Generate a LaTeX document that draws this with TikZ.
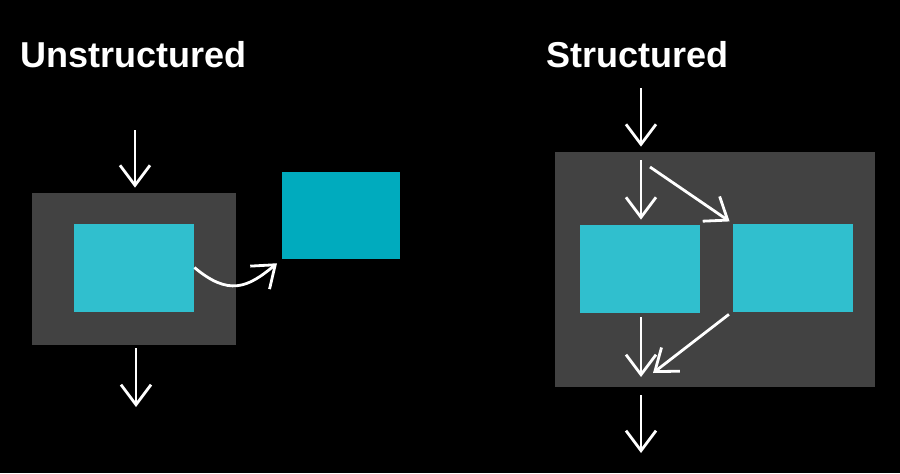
\documentclass[tikz,border=0pt]{standalone}
\usepackage{fontspec}
\setmainfont{Liberation Sans}
\usetikzlibrary{arrows.meta}
\definecolor{chalkgrey}{HTML}{424242}
\definecolor{tealbox}{HTML}{30BFCE}
\definecolor{tealfree}{HTML}{00ABBE}
\begin{document}
\begin{tikzpicture}[x=0.5pt, y=0.5pt,
    title/.style={anchor=base west, text=white, font=\fontsize{18}{22}\selectfont\bfseries, inner sep=0pt},
    frame/.style={rectangle, fill=chalkgrey, inner sep=0pt},
    block/.style={rectangle, fill=tealbox, inner sep=0pt, minimum width=60pt, minimum height=44pt},
    flow/.style={draw=white, line width=1.4pt, -{Straight Barb[length=10pt, width=15pt]}}]
                \fill[black] (0,0) rectangle (900,473);
                \useasboundingbox (0,0) rectangle (900,473);
                \node[title] (unstruct) at (20,406) {Unstructured};
                \node[title] (struct) at (546,406) {Structured};
                \node[frame, minimum width=102pt, minimum height=76pt] (outerL) at (134,204) {};
                \node[block] (taskL) at (134,205.5) {};
                \node[block, fill=tealfree, minimum width=59pt, minimum height=43.5pt] (escaped) at (341,257.5) {};
                \coordinate (inL) at (135,343);
                \coordinate (outL) at (136,66);
                \draw[flow, shorten >=2.5pt] (inL) -- (inL |- outerL.north);
                \draw[flow, shorten <=1.5pt] (outL |- outerL.south) -- (outL);
                \draw[flow, shorten >=3pt] (taskL.east) to[out=-40, in=-140, looseness=1.3] (escaped.south west);
                \node[frame, minimum width=160pt, minimum height=117.5pt] (outerR) at (715,203.5) {};
                \node[block] (taskA) at (640,204) {};
                \node[block] (taskB) at (792.5,205.5) {};
                \coordinate (inR) at (641,385);
                \coordinate (split) at (641,313);
                \coordinate (fork) at (650,306);
                \coordinate (join) at (641,96);
                \coordinate (merge) at (653,100);
                \coordinate (outR) at (641,20);
                \draw[flow, shorten >=2.5pt] (inR) -- (inR |- outerR.north);
                \draw[flow, shorten >=2.5pt] (split) -- (split |- taskA.north);
                \draw[flow, shorten >=1.5pt] (fork) -- (taskB.north west);
                \draw[flow, shorten <=2pt] (join |- taskA.south) -- (join);
                \draw[flow, shorten <=2pt] (taskB.south west) -- (merge);
                \draw[flow, shorten <=4pt] (outR |- outerR.south) -- (outR);
            \end{tikzpicture}
\end{document}
